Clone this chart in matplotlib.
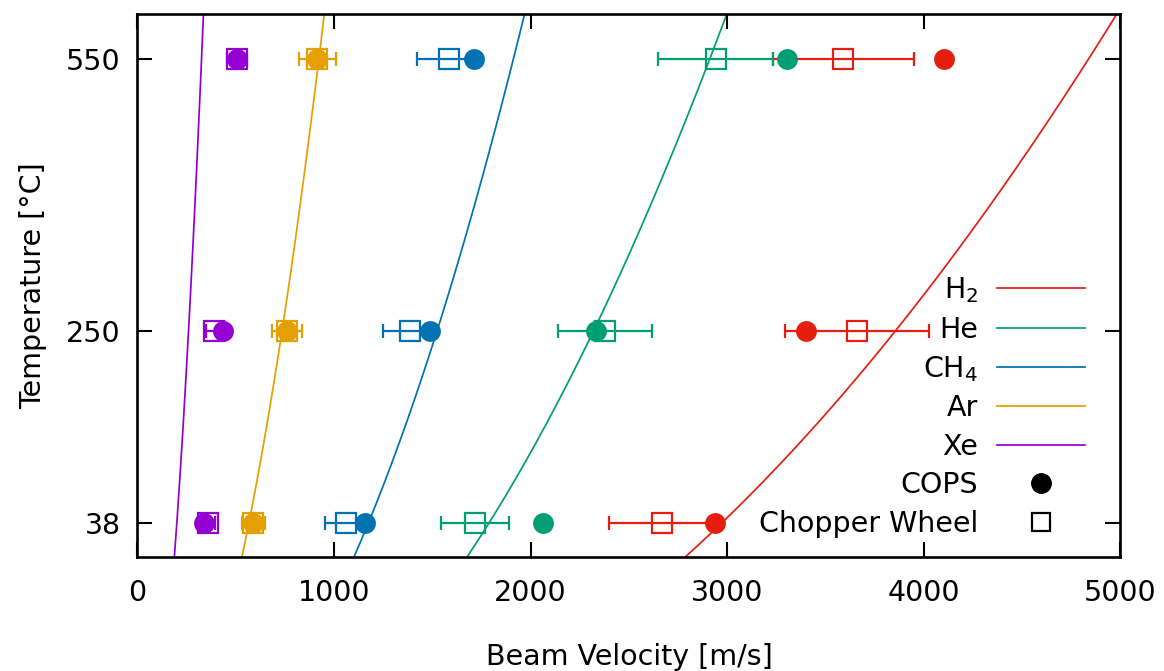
import numpy as np
import matplotlib
matplotlib.use("Agg")
import matplotlib.pyplot as plt
from matplotlib.lines import Line2D

plt.rcParams['font.family'] = ['DejaVu Sans']
plt.rcParams['mathtext.default'] = 'regular'

# ---- data ----
gases = ["H$_2$", "He", "CH$_4$", "Ar", "Xe"]
colors = ["#e51e10", "#009e73", "#0072b2", "#e69f00", "#9400d3"]
temperatures = [38, 250, 550]  # degC

cops_H2 = [2937, 3400, 4102]
cops_He = [2061, 2330, 3302]
cops_CH4 = [1157, 1488, 1712]
cops_Ar = [589, 759, 915]
cops_Xe = [338, 433, 508]

chopper_H2 = [2666, 3658, 3590]
chopper_He = [1717, 2378, 2942]
chopper_CH4 = [1060, 1386, 1586]
chopper_Ar = [589, 759, 915]
chopper_Xe = [357, 387, 508]

chopper_err_H2 = [267, 366, 359]
chopper_err_He = [172, 238, 292]
chopper_err_CH4 = [106, 139, 163]
chopper_err_Ar = [59, 76, 93]
chopper_err_Xe = [36, 39, 51]

# model curves: v^2 = coeff * T[K]   (coefficients)
model_coeff = [28420, 10290, 4440, 1034, 129]

x_ticks = [0, 1000, 2000, 3000, 4000, 5000]
y_ticks = [38, 250, 550]

cops = [cops_H2, cops_He, cops_CH4, cops_Ar, cops_Xe]
chopper = [chopper_H2, chopper_He, chopper_CH4, chopper_Ar, chopper_Xe]
chopper_err = [chopper_err_H2, chopper_err_He, chopper_err_CH4, chopper_err_Ar, chopper_err_Xe]

FS = 20.5

fig = plt.figure(figsize=(11.64, 6.71), dpi=100)
ax = fig.add_axes([0.1181, 0.1699, 0.8445, 0.8092])

T_grid = np.linspace(0, 600, 400)
for name, c, a in zip(gases, colors, model_coeff):
    v = np.sqrt(a * (T_grid + 273.15))
    ax.plot(v, T_grid, color=c, lw=1.25, zorder=1, label=name)

for c, xs, errs in zip(colors, chopper, chopper_err):
    ax.errorbar(xs, temperatures, xerr=errs, fmt='none', ecolor=c,
                elinewidth=1.6, capsize=5, capthick=1.6, zorder=2)
    ax.plot(xs, temperatures, ls='none', marker='s', ms=14.5, mfc='none',
            mec=c, mew=1.6, zorder=3)

for c, xs in zip(colors, cops):
    ax.plot(xs, temperatures, ls='none', marker='o', ms=15, mfc=c, mec=c,
            mew=0, zorder=4)

ax.set_xlim(0, 5000)
ax.set_ylim(0, 600)
ax.set_xticks(x_ticks)
ax.set_yticks(y_ticks)
ax.tick_params(direction='in', length=11, width=1.5, labelsize=FS,
               top=True, right=True)
ax.tick_params(axis='x', pad=16)
ax.tick_params(axis='y', pad=12)
for s in ax.spines.values():
    s.set_linewidth(1.9)

ax.set_xlabel("Beam Velocity [m/s]", fontsize=FS, labelpad=26)
ax.set_ylabel("Temperature [°C]", fontsize=FS, labelpad=14)

handles, labels = ax.get_legend_handles_labels()
handles = handles[:5] + [
    Line2D([], [], ls='none', marker='o', ms=14, mfc='black', mec='black'),
    Line2D([], [], ls='none', marker='s', ms=13.5, mfc='none', mec='black', mew=1.6),
]
labels = labels[:5] + ["COPS", "Chopper Wheel"]
ax.legend(handles, labels, loc='lower right', bbox_to_anchor=(0.964, 0.035),
          frameon=False, markerfirst=False, fontsize=FS, handlelength=3.1,
          handletextpad=0.65, labelspacing=0.37, borderpad=0, borderaxespad=0)

fig.savefig("out.png", dpi=100)
